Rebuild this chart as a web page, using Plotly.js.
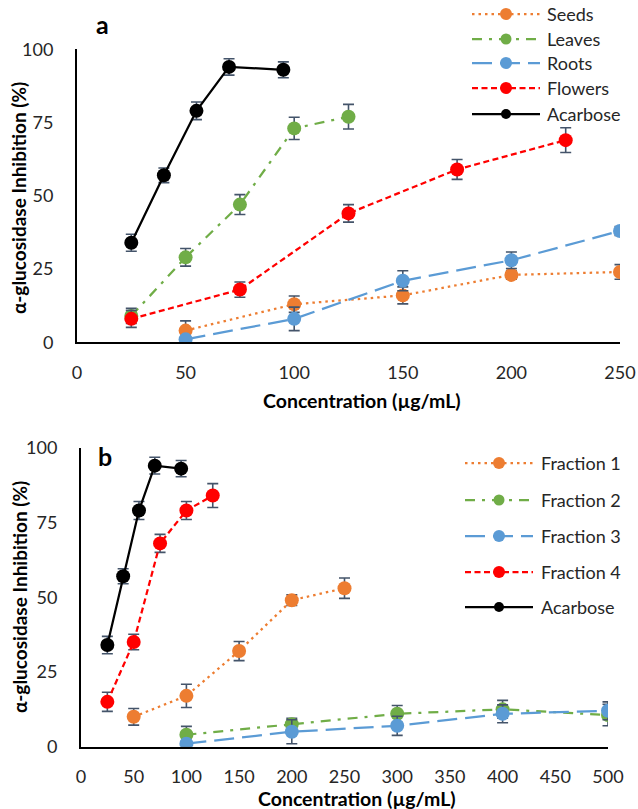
<!DOCTYPE html>
<html>
<head>
<meta charset="utf-8">
<script src="https://cdn.plot.ly/plotly-3.0.1.min.js"></script>
<style>html,body{margin:0;padding:0;background:#fff}#chart{width:638px;height:809px}</style>
</head>
<body>
<div id="chart"></div>
<script>
// ---------- Panel a data ----------
const seedsX = [50, 100, 150, 200, 250];
const seedsY = [4, 13, 16, 23, 24];
const seedsErr = [3.3, 2.8, 2.9, 1.5, 2.5];

const leavesX = [25, 50, 75, 100, 125];
const leavesY = [9, 29, 47, 73, 77];
const leavesErr = [2.6, 3.0, 3.4, 3.8, 4.2];

const rootsX = [50, 100, 150, 200, 250];
const rootsY = [1, 8, 21, 28, 38];
const rootsErr = [1.0, 4.0, 3.4, 2.8, 1.5];

const flowersX = [25, 75, 125, 175, 225];
const flowersY = [8, 18, 44, 59, 69];
const flowersErr = [2.9, 2.6, 3.0, 3.4, 4.2];

const acarboseX = [25, 40, 55, 70, 95];
const acarboseY = [34, 57, 79, 94, 93];
const acarboseErr = [2.9, 2.5, 3.0, 2.8, 2.7];

// ---------- Panel b data ----------
const frac1X = [50, 100, 150, 200, 250];
const frac1Y = [10, 17, 32, 49, 53];
const frac1Err = [2.8, 3.9, 3.2, 1.8, 3.4];

const frac2X = [100, 200, 300, 400, 500];
const frac2Y = [4, 7.5, 11, 12.5, 10.6];
const frac2Err = [2.8, 2.0, 2.8, 3.0, 3.6];

const frac3X = [100, 200, 300, 400, 500];
const frac3Y = [1, 5, 7, 11, 12];
const frac3Err = [1.0, 4.0, 3.2, 3.0, 3.0];

const frac4X = [25, 50, 75, 100, 125];
const frac4Y = [15, 35, 68, 79, 84];
const frac4Err = [3.2, 2.6, 3.0, 3.0, 4.0];

const panelANames = ['Seeds', 'Leaves', 'Roots', 'Flowers', 'Acarbose'];
const panelBNames = ['Fraction 1', 'Fraction 2', 'Fraction 3', 'Fraction 4', 'Acarbose'];
const xTitle = 'Concentration (µg/mL)';
const yTitle = 'α-glucosidase Inhibition (%)';

// ---------- styles ----------
const colors = ['#ED7D31', '#70AD47', '#5B9BD5', '#FF0000', '#000000'];
const dashes = ['2.5px,4px', '10px,7px,3px,7px', '20px,8px', '6px,3.5px', 'solid'];
const errColor = '#44546A';
const FONT = 'Lato, "Open Sans", sans-serif';
const W = 638, H = 809;
const px = x => x / W;
const py = y => 1 - y / H;

function series(x, y, err, i, name, xa, ya) {
  return {
    type: 'scatter', mode: 'lines+markers', name: name,
    x: x, y: y, xaxis: xa, yaxis: ya, showlegend: false,
    line: {color: colors[i], width: 2.25, dash: dashes[i]},
    marker: {color: colors[i], size: 14, line: {width: 0}},
    error_y: {type: 'data', array: err, visible: true, color: errColor, thickness: 1.6, width: 5.5}
  };
}

const traces = [
  series(seedsX, seedsY, seedsErr, 0, panelANames[0], 'x', 'y'),
  series(leavesX, leavesY, leavesErr, 1, panelANames[1], 'x', 'y'),
  series(rootsX, rootsY, rootsErr, 2, panelANames[2], 'x', 'y'),
  series(flowersX, flowersY, flowersErr, 3, panelANames[3], 'x', 'y'),
  series(acarboseX, acarboseY, acarboseErr, 4, panelANames[4], 'x', 'y'),
  series(frac1X, frac1Y, frac1Err, 0, panelBNames[0], 'x2', 'y2'),
  series(frac2X, frac2Y, frac2Err, 1, panelBNames[1], 'x2', 'y2'),
  series(frac3X, frac3Y, frac3Err, 2, panelBNames[2], 'x2', 'y2'),
  series(frac4X, frac4Y, frac4Err, 3, panelBNames[3], 'x2', 'y2'),
  series(acarboseX, acarboseY, acarboseErr, 4, panelBNames[4], 'x2', 'y2')
];

// ---------- custom legends (Excel-like long line samples) ----------
const shapes = [], annotations = [];
const legendMarker = [12, 11, 12, 12, 10];
function legend(names, rowsY, lineX0, lineX1, textX) {
  names.forEach((n, i) => {
    const yy = py(rowsY[i]);
    shapes.push({type: 'line', xref: 'paper', yref: 'paper', x0: px(lineX0), x1: px(lineX1), y0: yy, y1: yy,
      line: {color: colors[i], width: 2.25, dash: dashes[i]}});
    const r = legendMarker[i] / 2;
    shapes.push({type: 'circle', xref: 'paper', yref: 'paper', xsizemode: 'pixel', ysizemode: 'pixel',
      xanchor: px((lineX0 + lineX1) / 2), yanchor: yy, x0: -r, x1: r, y0: -r, y1: r,
      fillcolor: colors[i], line: {width: 0}});
    annotations.push({xref: 'paper', yref: 'paper', x: px(textX), y: yy, xanchor: 'left', yanchor: 'middle',
      showarrow: false, text: n, font: {family: FONT, size: 18, color: '#262626'}});
  });
}
legend(panelANames, [14, 39, 63, 88, 114], 472, 540, 545);
legend(panelBNames, [463, 500, 536, 572, 607], 465, 533, 539);

// panel letters and axis titles
function label(text, x, y, size, angle) {
  annotations.push({xref: 'paper', yref: 'paper', x: px(x), y: py(y), xanchor: 'center', yanchor: 'middle',
    showarrow: false, textangle: angle, text: '<b>' + text + '</b>', font: {family: FONT, size: size, color: '#000'}});
}
label('a', 102, 24, 25, 0);
label('b', 105, 456, 25, 0);
label(yTitle, 19, 198, 19, -90);
label(yTitle, 19, 597, 19, -90);
label(xTitle, 362, 401, 19.5, 0);
label(xTitle, 357, 798, 19.5, 0);

const tickFont = {family: FONT, size: 18, color: '#262626'};
function xaxis(domain, range, anchor) {
  return {domain: domain, range: range, dtick: 50, tick0: 0, anchor: anchor, showgrid: false, zeroline: false,
    showline: true, linecolor: '#000', linewidth: 2, ticks: '', tickfont: tickFont, ticklabelstandoff: 13};
}
function yaxis(domain, anchor) {
  return {domain: domain, range: [0, 100], dtick: 25, tick0: 0, anchor: anchor, showgrid: false, zeroline: false,
    showline: true, linecolor: '#000', linewidth: 2, ticks: '', tickfont: tickFont, ticklabelstandoff: 18};
}

const layout = {
  width: W, height: H, margin: {l: 0, r: 0, t: 0, b: 0}, showlegend: false,
  paper_bgcolor: '#fff', plot_bgcolor: 'rgba(0,0,0,0)', font: {family: FONT},
  xaxis: xaxis([px(77), px(620)], [0, 250], 'y'),
  yaxis: yaxis([py(342.3), py(49.3)], 'x'),
  xaxis2: xaxis([px(81), px(608)], [0, 500], 'y2'),
  yaxis2: yaxis([py(746.7), py(447.7)], 'x2'),
  shapes: shapes, annotations: annotations
};

Plotly.newPlot('chart', traces, layout, {displayModeBar: false, staticPlot: true});
</script>
</body>
</html>
